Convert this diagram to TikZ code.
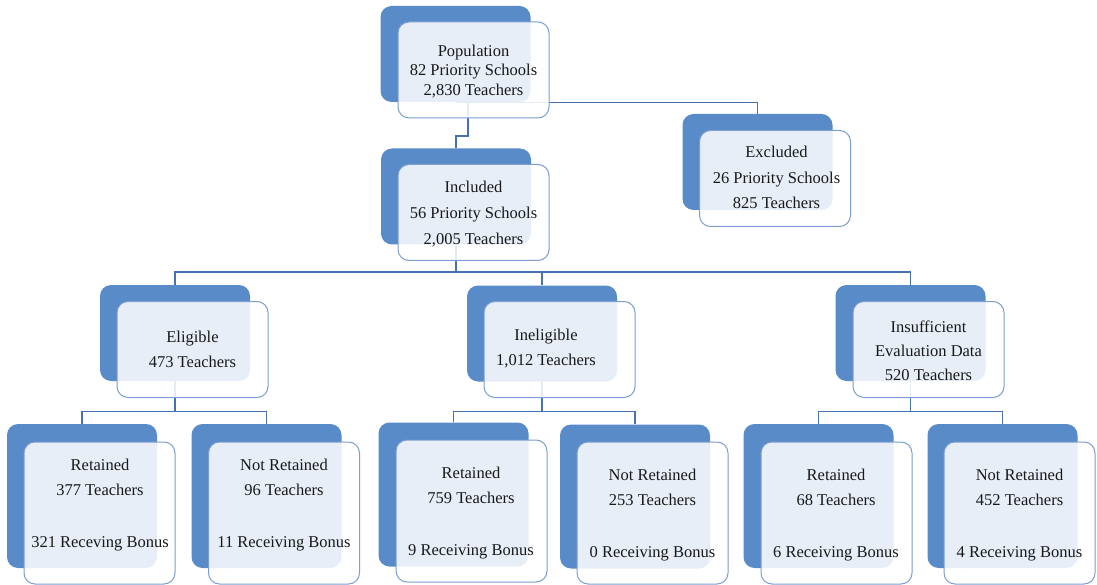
\documentclass[tikz,border=0pt]{standalone}
\usepackage{fontspec}
\setmainfont{Liberation Serif}
\usetikzlibrary{positioning}
\definecolor{backblue}{RGB}{89,139,201}
\definecolor{edgeblue}{RGB}{124,158,208}
\definecolor{connblue}{RGB}{70,114,176}
\definecolor{txtgray}{RGB}{25,25,25}
\tikzset{
  backbox/.style={fill=backblue, rounded corners=11pt, minimum width=150pt,
    minimum height=96pt, inner sep=0pt},
  frontbox/.style={draw=edgeblue, line width=1pt, fill=white, fill opacity=0.86,
    rounded corners=11pt, minimum width=151pt, minimum height=96pt, inner sep=0pt},
  tallback/.style={minimum height=144pt},
  tallfront/.style={minimum height=142pt},
  conn/.style={draw=connblue, line width=1.2pt},
  txt/.style={align=center, text=txtgray, font=\fontsize{16.5}{25}\selectfont},
}

\begin{document}
\begin{tikzpicture}[x=1pt,y=-1pt]
\useasboundingbox (0,0) rectangle (1097,585);

% back shapes
\node[backbox] (popb) at (455.5,54) {};
\node[backbox] (inclb) at (456,196.5) {};
\node[backbox] (exclb) at (757.5,162) {};
\node[backbox] (eligb) at (175,333) {};
\node[backbox] (inelb) at (542,333.5) {};
\node[backbox] (insufb) at (910.5,333) {};
\node[backbox,tallback] (ret1b) at (82,496) {};
\node[backbox,tallback] (nr1b) at (266.5,496) {};
\node[backbox,tallback] (ret2b) at (453.5,494.5) {};
\node[backbox,tallback] (nr2b) at (635,496.5) {};
\node[backbox,tallback] (ret3b) at (818.5,496) {};
\node[backbox,tallback] (nr3b) at (1002.5,496) {};

% connectors
\coordinate (jog) at (456,136);
\coordinate (bus2) at (456,272);
\draw[conn] (popb.south) -| (exclb.north);
\draw[conn] ([xshift=12.5pt]popb.south) |- (jog) -- (inclb.north);
\draw[conn] (inclb.south) -- (bus2);
\draw[conn] (eligb.north) |- (bus2) -| (insufb.north);
\draw[conn] (inelb.north) -- (inelb.north |- bus2);

\draw[conn] (eligb.south) -- ++(0,30) coordinate (bus3a);
\draw[conn] (ret1b.north) |- (bus3a) -| (nr1b.north);
\draw[conn] (inelb.south) -- ++(0,30) coordinate (bus3b);
\draw[conn] (ret2b.north) |- (bus3b) -| (nr2b.north);
\draw[conn] (insufb.south) -- ++(0,30) coordinate (bus3c);
\draw[conn] (ret3b.north) |- (bus3c) -| (nr3b.north);

% front shapes
\node[frontbox] (popf) at (473.5,70) {};
\node[frontbox] (inclf) at (473.5,212.5) {};
\node[frontbox] (exclf) at (775,178.5) {};
\node[frontbox] (eligf) at (192.5,349.5) {};
\node[frontbox] (inelf) at (559.5,349.5) {};
\node[frontbox] (insuff) at (928.5,349.5) {};
\node[frontbox,tallfront] (ret1f) at (99.5,513) {};
\node[frontbox,tallfront] (nr1f) at (284,513) {};
\node[frontbox,tallfront] (ret2f) at (471.5,511) {};
\node[frontbox,tallfront] (nr2f) at (652.5,513) {};
\node[frontbox,tallfront] (ret3f) at (836.5,513) {};
\node[frontbox,tallfront] (nr3f) at (1019.5,513) {};

% labels
\node[txt,font=\fontsize{16.5}{19.5}\selectfont] (popt) at (473.5,71.5)
  {Population\\82 Priority Schools\\2,830 Teachers};
\node[txt,font=\fontsize{16.5}{26}\selectfont] (inclt) at (473.5,214)
  {Included\\56 Priority Schools\\2,005 Teachers};
\node[txt,font=\fontsize{16.5}{25.5}\selectfont] (exclt) at (776.5,177.5)
  {Excluded\\26 Priority Schools\\825 Teachers};
\node[txt] (eligt) at (192.5,349) {Eligible\\473 Teachers};
\node[txt] (inelt) at (546,349) {Ineligible\\1,012 Teachers};
\node[txt,font=\fontsize{16.5}{24}\selectfont] (insuft) at (928.5,351)
  {Insufficient\\Evaluation Data\\520 Teachers};
\node[txt] (ret1t) at (100,505.5) {Retained\\377 Teachers\\[27pt]321 Receving Bonus};
\node[txt] (nr1t) at (284,505.5) {Not Retained\\96 Teachers\\[27pt]11 Receiving Bonus};
\node[txt] (ret2t) at (471,513) {Retained\\759 Teachers\\[27pt]9 Receiving Bonus};
\node[txt] (nr2t) at (652.5,515) {Not Retained\\253 Teachers\\[27pt]0 Receiving Bonus};
\node[txt] (ret3t) at (836,515) {Retained\\68 Teachers\\[27pt]6 Receiving Bonus};
\node[txt] (nr3t) at (1019.5,515) {Not Retained\\452 Teachers\\[27pt]4 Receiving Bonus};

\end{tikzpicture}
\end{document}
